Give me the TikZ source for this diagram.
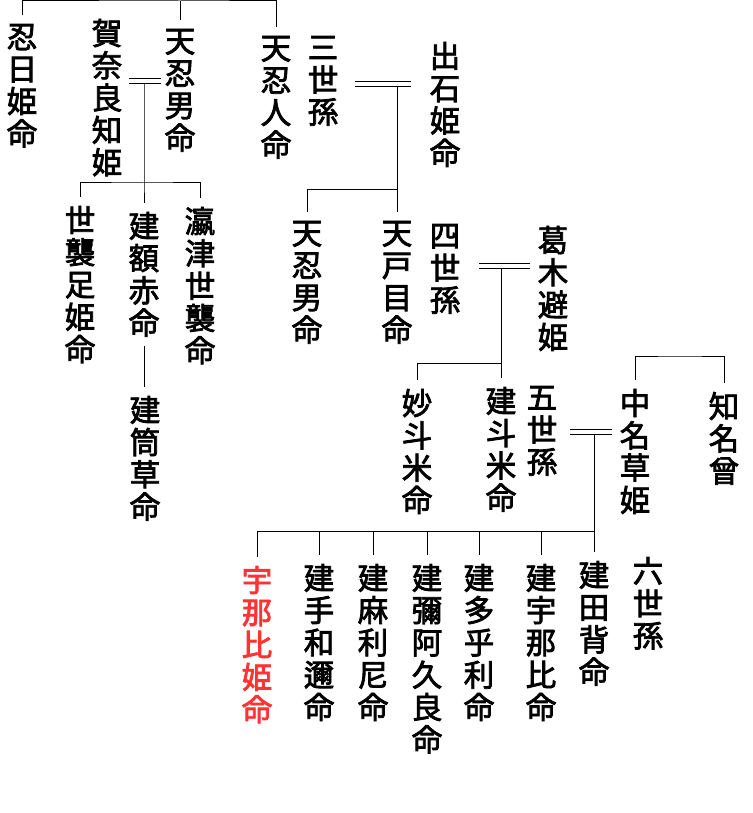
\documentclass[tikz,border=0pt]{standalone}
\usepackage{fontspec}
\newfontfamily\cjk[FakeBold=2.5]{Noto Sans CJK JP}
\usepackage{xcolor}
\usepackage{tikz}
\usetikzlibrary{calc,positioning}
\definecolor{linec}{HTML}{000000}
\definecolor{hlc}{HTML}{FF3333}
\tikzset{
  ln/.style={draw=linec,line width=1pt},
  wed/.style={draw=linec,line width=1pt,double=white,double distance=4pt},
  nm/.style={anchor=north,inner sep=0pt,outer sep=9pt,align=center,font=\cjk\fontsize{30.5}{32.3}\selectfont}
}

\begin{document}
\begin{tikzpicture}[x=1pt,y=-1pt]
\useasboundingbox (0,0) rectangle (752,813);
% first row
\node[nm] (a1) at (22,15) {忍\\日\\姫\\命};
\node[nm] (a2) at (107,10) {賀\\奈\\良\\知\\姫};
\node[nm] (a3) at (180,20) {天\\忍\\男\\命};
\node[nm] (a4) at (276,27) {天\\忍\\人\\命};
\node[nm] (g3) at (323,27) {三\\世\\孫};
\node[nm] (a5) at (445,33) {出\\石\\姫\\命};
\coordinate (t0) at (180,1);
\draw[ln] (a1) |- (t0) -| (a4);
\draw[ln] (t0) -- (a3);
% children of a2 and a3
\node[nm] (c1) at (80,197) {世\\襲\\足\\姫\\命};
\node[nm] (c2) at (144,203) {建\\額\\赤\\命};
\node[nm] (c3) at (200,198) {瀛\\津\\世\\襲\\命};
\node[nm] (c4) at (145,387) {建\\筒\\草\\命};
\coordinate (m1) at (144,81);
\coordinate (b1) at (144,183);
\draw[ln] (m1) -- (b1) -- (c2);
\draw[ln] (c1) |- (b1) -| (c3);
\draw[ln] (c2) -- (c2|-c4.north);
\draw[wed,shorten <=-2pt,shorten >=-5pt] (a2.east|-m1) -- (a3.west|-m1);
% children of g3 and a5
\node[nm] (d1) at (307,212) {天\\忍\\男\\命};
\node[nm] (d2) at (397,212) {天\\戸\\目\\命};
\node[nm] (g4) at (445,215) {四\\世\\孫};
\node[nm] (e0) at (553,217) {葛\\木\\避\\姫};
\coordinate (m2) at (397,84);
\coordinate (b2) at (397,189);
\draw[ln] (m2) -- (d2);
\draw[ln] (b2) -| (d1);
\draw[wed,shorten <=8pt,shorten >=10pt] (g3.east|-m2) -- (a5.west|-m2);
% children of g4 and e0
\node[nm] (f1) at (417,380) {妙\\斗\\米\\命};
\node[nm] (f2) at (501,378) {建\\斗\\米\\命};
\node[nm] (g5) at (542,377) {五\\世\\孫};
\node[nm] (f3) at (635,380) {中\\名\\草\\姫};
\node[nm] (f4) at (724,383) {知\\名\\曾};
\coordinate (m3) at (501,265.5);
\coordinate (b3) at (501,363);
\draw[ln] (m3) -- (f2);
\draw[ln] (b3) -| (f1);
\draw[wed,shorten <=10pt,shorten >=-1pt] (g4.east|-m3) -- (e0.west|-m3);
\coordinate (k0) at (680,356);
\draw[ln] (f3) |- (k0) -| (f4);
% children of g5 and f3
\node[nm,text=hlc] (h1) at (257,557) {宇\\那\\比\\姫\\命};
\node[nm] (h2) at (319,555) {建\\手\\和\\邇\\命};
\node[nm] (h3) at (373,555) {建\\麻\\利\\尼\\命};
\node[nm] (h4) at (427,555) {建\\彌\\阿\\久\\良\\命};
\node[nm] (h5) at (479,555) {建\\多\\乎\\利\\命};
\node[nm] (h6) at (541,555) {建\\宇\\那\\比\\命};
\node[nm] (h7) at (594,552) {建\\田\\背\\命};
\node[nm] (g6) at (648,548) {六\\世\\孫};
\coordinate (m4) at (594,432);
\coordinate (b4) at (594,531);
\draw[ln] (m4) -- (h7);
\draw[ln] (b4) -| (h1);
\foreach \c in {h2,h3,h4,h5,h6}
  \draw[ln] (b4-|\c) -- (\c);
\draw[wed,shorten <=4pt,shorten >=-1pt] (g5.east|-m4) -- (f3.west|-m4);
\end{tikzpicture}
\end{document}
